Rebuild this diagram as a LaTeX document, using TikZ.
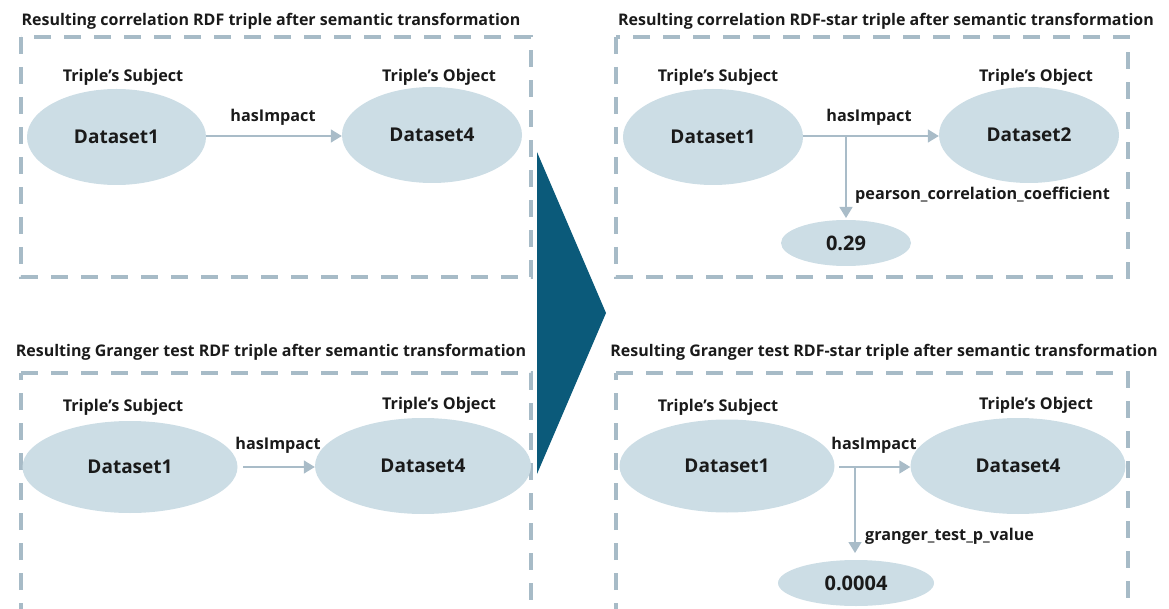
\documentclass[tikz,border=0pt]{standalone}
\usepackage{fontspec}
\setmainfont{Open Sans}
\usetikzlibrary{arrows.meta,shapes.geometric}
\definecolor{dashc}{HTML}{A7BBC7}
\definecolor{ellc}{HTML}{CCDDE5}
\definecolor{arrc}{HTML}{A9BCC8}
\definecolor{tric}{HTML}{0B5A7A}
\definecolor{txtc}{HTML}{1A1A1A}
\tikzset{
  panelbox/.style={draw=dashc, line width=4pt, dash pattern=on 17pt off 13pt},
  ent/.style={ellipse, fill=ellc, inner sep=0pt, font=\fontsize{19}{19}\selectfont\bfseries, text=txtc},
  val/.style={ellipse, fill=ellc, inner sep=0pt, font=\fontsize{20}{20}\selectfont\bfseries, text=txtc},
  ttl/.style={font=\fontsize{16}{16}\selectfont\bfseries, text=txtc, inner sep=0pt},
  lbl/.style={font=\fontsize{16.2}{16}\selectfont\bfseries, text=txtc, inner sep=0pt},
  rel/.style={draw=arrc, line width=1.5pt, -{Triangle[length=11pt,width=13pt]}},
}
\begin{document}
\begin{tikzpicture}[x=1pt,y=-1pt]
\useasboundingbox (0,0) rectangle (1169,609);

% big arrow
\fill[tric] (537,152) -- (606,313) -- (537,474) -- cycle;

% ---------- Panel 1 ----------
\node[ttl] (t1) at (271,21) {Resulting correlation RDF triple after semantic transformation};
\draw[panelbox] (21,37) rectangle (531,277);
\node[lbl] (s1) at (123,77) {Triple’s Subject};
\node[lbl] (o1) at (439,77) {Triple’s Object};
\node[ent, minimum width=179pt, minimum height=96pt] (a1) at (116.5,137) {Dataset1};
\node[ent, minimum width=180pt, minimum height=96pt] (b1) at (432,135) {Dataset4};
\draw[rel] (a1.east |- 0,136) -- (b1.west |- 0,136);
\node[lbl] (h1) at (273,117) {hasImpact};

% ---------- Panel 2 ----------
\node[ttl] (t2) at (886,21) {Resulting correlation RDF-star triple after semantic transformation};
\draw[panelbox] (616,37) rectangle (1128,277);
\node[lbl] (s2) at (718,77) {Triple’s Subject};
\node[lbl] (o2) at (1036,77) {Triple’s Object};
\node[ent, minimum width=180pt, minimum height=96pt] (a2) at (713,137) {Dataset1};
\node[ent, minimum width=180pt, minimum height=96pt] (b2) at (1029,135) {Dataset2};
\node[val, minimum width=130pt, minimum height=46pt] (v2) at (846,243) {0.29};
\coordinate (j2) at (846,136);
\coordinate (e2) at (846,218);
\draw[rel] (a2.east |- 0,136) -- (b2.west |- 0,136);
\draw[rel] (j2) -- (e2);
\node[lbl] (h2) at (869,117) {hasImpact};
\node[lbl, anchor=west] (p2) at (855,195) {pearson\_correlation\_coefficient};

% ---------- Panel 3 ----------
\node[ttl] (t3) at (271,352) {Resulting Granger test RDF triple after semantic transformation};
\draw[panelbox] (21,373) -- (531,373) -- (531,620);
\draw[panelbox] (21,620) -- (21,373);
\node[lbl] (s3) at (123,407) {Triple’s Subject};
\node[lbl] (o3) at (439,405) {Triple’s Object};
\node[ent, minimum width=215pt, minimum height=92pt] (a3) at (130,467) {Dataset1};
\node[ent, minimum width=216pt, minimum height=96pt] (b3) at (423,466) {Dataset4};
\coordinate (st3) at (243,467);
\draw[rel] (st3) -- (b3.west |- 0,467);
\node[lbl] (h3) at (278,445) {hasImpact};

% ---------- Panel 4 ----------
\node[ttl] (t4) at (884,352) {Resulting Granger test RDF-star triple after semantic transformation};
\draw[panelbox] (616,373) -- (1128,373) -- (1128,620);
\draw[panelbox] (616,620) -- (616,373);
\node[lbl] (s4) at (718,407) {Triple’s Subject};
\node[lbl] (o4) at (1036,405) {Triple’s Object};
\node[ent, minimum width=215pt, minimum height=93pt] (a4) at (727,466) {Dataset1};
\node[ent, minimum width=215pt, minimum height=96pt] (b4) at (1018,466) {Dataset4};
\node[val, minimum width=156pt, minimum height=46pt] (v4) at (856,583) {0.0004};
\coordinate (st4) at (839,467);
\coordinate (j4) at (855,467);
\coordinate (e4) at (855,553);
\draw[rel] (st4) -- (b4.west |- 0,467);
\draw[rel] (j4) -- (e4);
\node[lbl] (h4) at (874,445) {hasImpact};
\node[lbl, anchor=west] (p4) at (865,536) {granger\_test\_p\_value};
\end{tikzpicture}
\end{document}
